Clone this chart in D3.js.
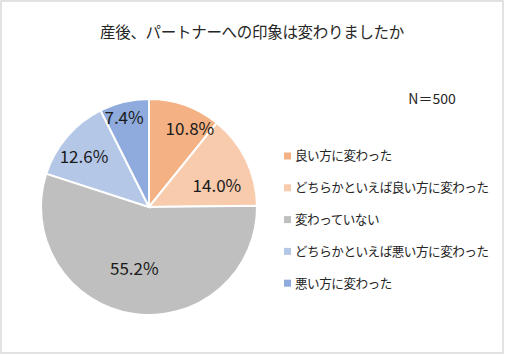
<!DOCTYPE html>
<html><head><meta charset="utf-8">
<script src="https://cdn.jsdelivr.net/npm/d3@7"></script>
<style>html,body{margin:0;padding:0;background:#fff;}svg{display:block;}</style>
</head><body>
<script>
const title = "産後、パートナーへの印象は変わりましたか";
const note = "N＝500";
const categories = ["良い方に変わった","どちらかといえば良い方に変わった","変わっていない","どちらかといえば悪い方に変わった","悪い方に変わった"];
const values = [10.8, 14.0, 55.2, 12.6, 7.4];
const colors = ["#F4B183","#F8CBAD","#BFBFBF","#B4C7E7","#8FAADC"];

const W = 505, H = 355;
const font = "'Noto Sans CJK JP', 'Noto Sans', sans-serif";
const svg = d3.select("body").append("svg").attr("width", W).attr("height", H);
svg.append("rect").attr("x",1).attr("y",1).attr("width",W-3).attr("height",H-3)
  .attr("fill","#fff").attr("stroke","#D9D9D9").attr("stroke-width",1.5);

svg.append("text").attr("x",252).attr("y",38).attr("text-anchor","middle")
  .attr("font-family",font).attr("font-size",15.5).attr("letter-spacing",-0.3).attr("fill","#262626").text(title);
svg.append("text").attr("x",432).attr("y",104).attr("text-anchor","middle")
  .attr("font-family",font).attr("font-size",14).attr("fill","#262626").text(note);

const cx = 149, cy = 207, r = 108;
const pie = d3.pie().sort(null).value(d => d)(values);
const arc = d3.arc().innerRadius(0).outerRadius(r);
const g = svg.append("g").attr("transform",`translate(${cx},${cy})`);
g.selectAll("path").data(pie).join("path")
  .attr("d", arc).attr("fill",(d,i)=>colors[i]).attr("stroke","#fff").attr("stroke-width",2);

const labelArc = d3.arc().innerRadius(r*0.72).outerRadius(r*0.72);
const offsets = [[15,-5],[-2,13],[-3,-15],[-6,1],[-7,-13]];
g.selectAll("text.lbl").data(pie).join("text").attr("class","lbl")
  .attr("transform",(d,i)=>{const c=labelArc.centroid(d);return `translate(${c[0]+offsets[i][0]},${c[1]+offsets[i][1]})`;})
  .attr("text-anchor","middle").attr("dy","0.35em")
  .attr("font-family",font).attr("font-size",17).attr("fill","#1a1a1a")
  .text(d => d.data.toFixed(1) + "%");

const leg = svg.append("g").attr("transform","translate(284,156)");
const row = leg.selectAll("g").data(categories).join("g").attr("transform",(d,i)=>`translate(0,${i*31.8})`);
row.append("rect").attr("x",0).attr("y",-3.5).attr("width",7).attr("height",7).attr("fill",(d,i)=>colors[i]);
row.append("text").attr("x",11).attr("dy","0.35em").attr("font-family",font).attr("font-size",12.6).attr("letter-spacing",-0.5)
  .attr("fill","#262626").text(d=>d);
</script>
</body></html>
